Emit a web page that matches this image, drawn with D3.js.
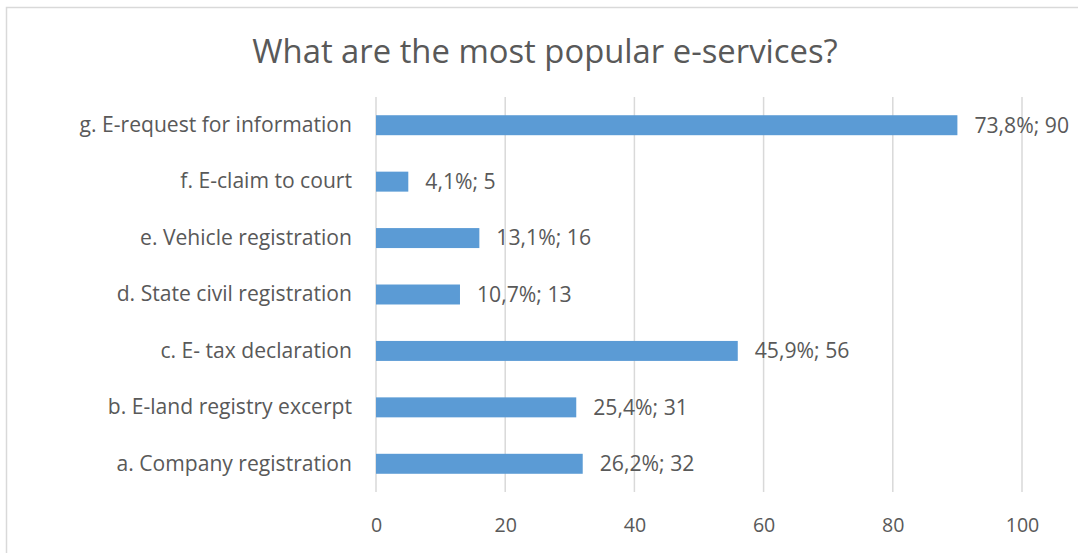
<!DOCTYPE html>
<html>
<head>
<meta charset="utf-8">
<script src="https://cdn.jsdelivr.net/npm/d3@7"></script>
<style>
  html, body { margin: 0; padding: 0; background: #fff; }
  svg { display: block; }
  text { font-family: "Open Sans", Lato, sans-serif; fill: #595959; }
</style>
</head>
<body>
<svg id="chart" width="1078" height="553"></svg>
<script>
// Survey answers: respondents naming each e-service
const categories = [
  "a. Company registration",
  "b. E-land registry excerpt",
  "c. E- tax declaration",
  "d. State civil registration",
  "e. Vehicle registration",
  "f. E-claim to court",
  "g. E-request for information"
];
const counts = [32, 31, 56, 13, 16, 5, 90];
const percents = [26.2, 25.4, 45.9, 10.7, 13.1, 4.1, 73.8];
const xTicks = [0, 20, 40, 60, 80, 100];
const title = "What are the most popular e-services?";

const rows = categories.map((c, i) => ({ cat: c, n: counts[i], pct: percents[i] }));

const svg = d3.select("#chart");
const W = 1078, H = 553;
const plot = { left: 376, right: 1022, top: 97, bottom: 492 };
const FONT = '"Open Sans", Lato, sans-serif';

// chart frame
svg.append("rect")
  .attr("x", 6.5).attr("y", 7.5)
  .attr("width", W + 20).attr("height", H + 20)
  .attr("fill", "none").attr("stroke", "#d9d9d9").attr("stroke-width", 1.5);

const x = d3.scaleLinear().domain([0, 100]).range([plot.left, plot.right]);
const y = d3.scaleBand()
  .domain(categories.slice().reverse())
  .range([plot.top, plot.bottom])
  .paddingInner(0.646)
  .paddingOuter(0.323);

// vertical gridlines
svg.append("g").selectAll("line")
  .data(xTicks)
  .join("line")
  .attr("x1", d => x(d)).attr("x2", d => x(d))
  .attr("y1", plot.top).attr("y2", plot.bottom)
  .attr("stroke", "#d9d9d9").attr("stroke-width", 1.5);

// bottom axis labels
const xAxis = d3.axisBottom(x).tickValues(xTicks).tickSize(0).tickPadding(0);
const gx = svg.append("g").attr("transform", `translate(0,${plot.bottom})`).call(xAxis);
gx.select(".domain").remove();
gx.selectAll("text")
  .attr("y", 33).attr("dy", "0.35em")
  .style("font-size", "19.6px").style("font-family", FONT).attr("fill", "#595959");

// category axis labels
const yAxis = d3.axisLeft(y).tickSize(0).tickPadding(24);
const gy = svg.append("g").attr("transform", `translate(${plot.left},0)`).call(yAxis);
gy.select(".domain").remove();
gy.selectAll("text")
  .style("font-size", "21.1px").style("font-family", FONT).attr("fill", "#595959");

// bars
svg.append("g").selectAll("rect")
  .data(rows)
  .join("rect")
  .attr("x", x(0))
  .attr("y", d => y(d.cat))
  .attr("width", d => x(d.n) - x(0))
  .attr("height", y.bandwidth())
  .attr("fill", "#5b9bd5");

// value labels: percent; count
const fmt = v => d3.format(".1f")(v).replace(".", ",");
svg.append("g").selectAll("text")
  .data(rows)
  .join("text")
  .attr("x", d => x(d.n) + 17)
  .attr("y", d => y(d.cat) + y.bandwidth() / 2)
  .attr("dy", "0.35em")
  .style("font-size", "21.2px")
  .text(d => `${fmt(d.pct)}%; ${d.n}`);

// title
svg.append("text")
  .attr("x", 545).attr("y", 63)
  .attr("text-anchor", "middle")
  .style("font-size", "32.8px")
  .text(title);
</script>
</body>
</html>
